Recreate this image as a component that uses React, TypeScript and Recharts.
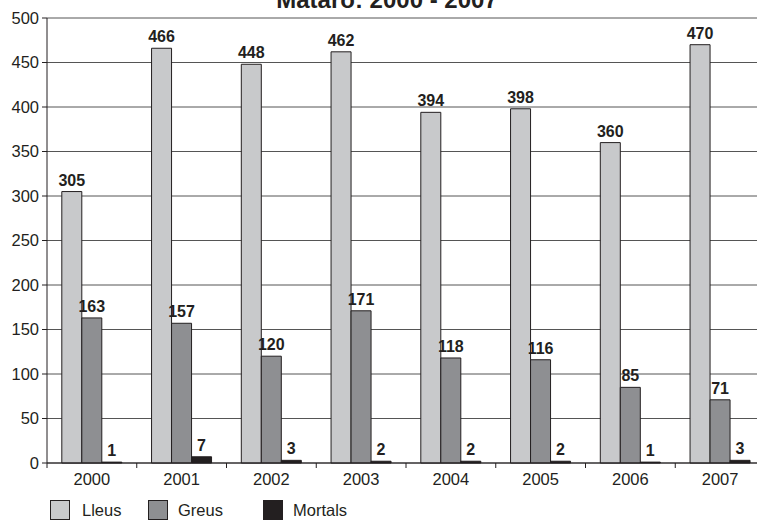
import React from 'react';
import { BarChart, Bar, XAxis, YAxis, CartesianGrid, Legend, LabelList, Customized } from 'recharts';

const years = ['2000', '2001', '2002', '2003', '2004', '2005', '2006', '2007'];
const lleus = [305, 466, 448, 462, 394, 398, 360, 470];
const greus = [163, 157, 120, 171, 118, 116, 85, 71];
const mortals = [1, 7, 3, 2, 2, 2, 1, 3];
const yTicks = [0, 50, 100, 150, 200, 250, 300, 350, 400, 450, 500];
const title = 'Mataró: 2000 - 2007';
const seriesNames = ['Lleus', 'Greus', 'Mortals'];

const data = years.map((y, i) => ({ year: y, Lleus: lleus[i], Greus: greus[i], Mortals: mortals[i] }));

const FONT = '"Liberation Sans", Arial, Helvetica, sans-serif';
const INK = '#231f20';
const COLORS = ['#c8c9cb', '#8e8f92', '#231f20'];
const CHART_W = 765;
const PLOT_LEFT = 47;
const BAND = (CHART_W - PLOT_LEFT) / years.length;

const XTick = (props: any) => {
  const { x, y, payload, index } = props;
  return (
    <g>
      <line x1={x - BAND / 2} x2={x - BAND / 2} y1={y} y2={y + 5} stroke={INK} strokeWidth={1} />
      {index === years.length - 1 && (
        <line x1={x + BAND / 2} x2={x + BAND / 2} y1={y} y2={y + 5} stroke={INK} strokeWidth={1} />
      )}
      <text x={x} y={y + 22} textAnchor="middle" fontFamily={FONT} fontSize={16.5} fill={INK}>
        {payload.value}
      </text>
    </g>
  );
};

const legendPos = [
  { box: 50, text: 82 },
  { box: 148, text: 178 },
  { box: 263, text: 293 },
];

const renderLegend = () => (
  <div style={{ position: 'relative', width: 757, height: 34, fontFamily: FONT, fontSize: 16.5, color: INK }}>
    {seriesNames.map((n, i) => (
      <React.Fragment key={n}>
        <div
          style={{
            position: 'absolute',
            left: legendPos[i].box,
            top: 13,
            width: 20,
            height: 20,
            boxSizing: 'border-box',
            background: COLORS[i],
            border: `1px solid ${INK}`,
          }}
        />
        <div style={{ position: 'absolute', left: legendPos[i].text, top: 13, height: 20, lineHeight: '20px', whiteSpace: 'nowrap' }}>
          {n}
        </div>
      </React.Fragment>
    ))}
  </div>
);

const Title = () => (
  <text x={387} y={7.5} textAnchor="middle" fontFamily={FONT} fontSize={24} fontWeight="bold" fill={INK}>
    {title}
  </text>
);

const labelStyle = { fontFamily: FONT, fontSize: 16, fontWeight: 'bold' as const, fill: INK };

export default function App() {
  return (
    <div style={{ position: 'absolute', left: 0, top: 0, width: 757, height: 521, overflow: 'hidden', background: '#fff' }}>
      <BarChart
        width={CHART_W}
        height={521}
        data={data}
        margin={{ top: 18, right: 0, left: 0, bottom: 0 }}
        barCategoryGap="16.5%"
        barGap={0}
      >
        <CartesianGrid vertical={false} stroke="#555" strokeWidth={1} />
        <XAxis
          dataKey="year"
          height={24}
          interval={0}
          axisLine={{ stroke: INK }}
          tickLine={false}
          tickSize={0}
          tickMargin={0}
          tick={<XTick />}
        />
        <YAxis
          width={PLOT_LEFT}
          domain={[0, 500]}
          ticks={yTicks}
          interval={0}
          axisLine={{ stroke: INK }}
          tickLine={{ stroke: INK }}
          tickSize={5}
          tickMargin={3}
          tick={{ fontFamily: FONT, fontSize: 16.5, fill: INK }}
        />
        <Legend verticalAlign="bottom" height={34} wrapperStyle={{ left: 0, width: 757 }} content={renderLegend} />
        {seriesNames.map((n, i) => (
          <Bar key={n} dataKey={n} fill={COLORS[i]} stroke={INK} strokeWidth={1} isAnimationActive={false}>
            <LabelList dataKey={n} position="top" offset={6} style={labelStyle} />
          </Bar>
        ))}
        <Customized component={Title} />
      </BarChart>
    </div>
  );
}
